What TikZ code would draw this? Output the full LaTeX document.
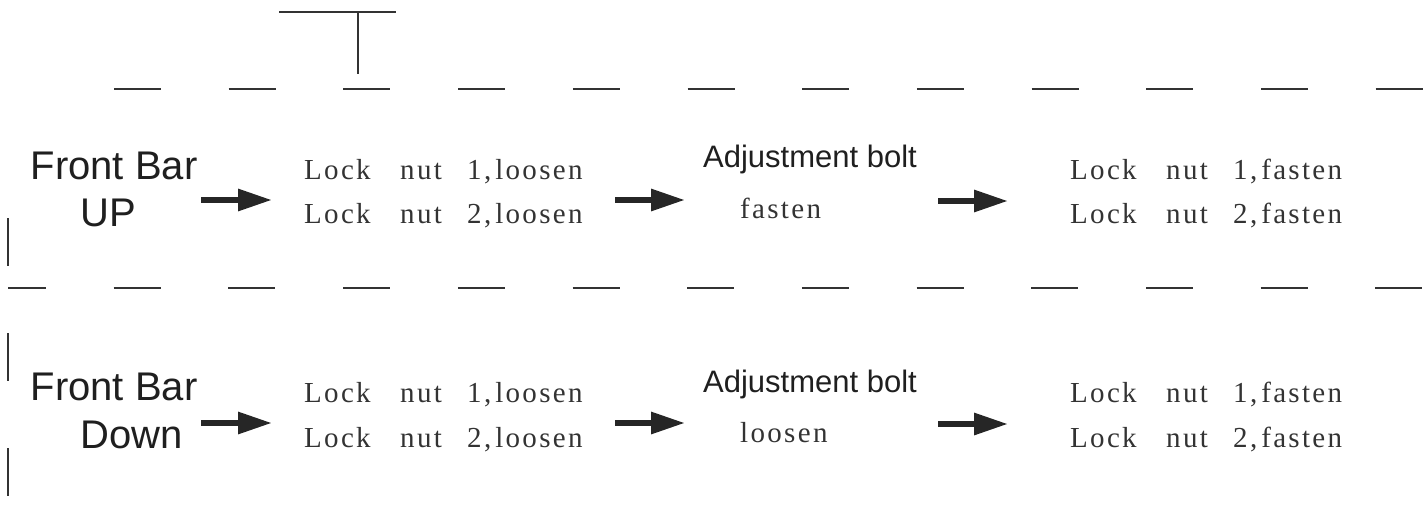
\documentclass[tikz,border=0pt]{standalone}
\usepackage{fontspec}
\setsansfont{Liberation Sans}
\newfontfamily\nutfont{Liberation Serif}[LetterSpace=8]
\newcommand{\nutline}[3]{\makebox[96pt][l]{#1}\makebox[67pt][l]{#2}#3}
\usetikzlibrary{arrows.meta}

\begin{document}
\begin{tikzpicture}
[x=1pt, y=-1pt, every node/.style={inner sep=0pt, text=black!88},
 guide/.style={line width=2pt, color=black!80},
 bartext/.style={font=\sffamily\fontsize{40}{48}\selectfont},
 bolttext/.style={font=\sffamily\fontsize{31}{37}\selectfont, anchor=base},
 nuttext/.style={font=\nutfont\fontsize{29}{44}\selectfont, anchor=base west, text=black!80},
 push/.style={line width=6pt, color=black!85, -{Triangle[length=34pt, width=21pt]}}]
\useasboundingbox (0,0) rectangle (1423,508);
% dashed guides and the T mark
\draw [guide] (279,12) -- (396,12);
\draw [guide] (358,12) -- (358,74);
\draw [guide, dash pattern=on 47pt off 67.7pt] (114,89) -- (1423,89);
\draw [guide, dash pattern=on 47pt off 67.7pt, dash phase=9pt] (8,288) -- (1423,288);
\draw [guide, dash pattern=on 48pt off 67pt] (8,218) -- (8,508);
% upper row
\node (1) [bartext, anchor=base] at (114,179) {Front Bar};
\node (2) [bartext, anchor=base west] at (80,226) {UP};
\node (3) [nuttext] at (304,179) {\nutline{Lock}{nut}{1,\hspace{4pt}loosen}};
\node (4) [nuttext] at (304,223) {\nutline{Lock}{nut}{2,\hspace{4pt}loosen}};
\node (5) [bolttext] at (810,167) {Adjustment bolt};
\node (6) [nuttext] at (740,218) {fasten};
\node (7) [nuttext] at (1070,179) {\nutline{Lock}{nut}{1,\hspace{4pt}fasten}};
\node (8) [nuttext] at (1070,223) {\nutline{Lock}{nut}{2,\hspace{4pt}fasten}};
% lower row
\node (9) [bartext, anchor=base] at (114,400) {Front Bar};
\node (10) [bartext, anchor=base west] at (80,448) {Down};
\node (11) [nuttext] at (304,402) {\nutline{Lock}{nut}{1,\hspace{4pt}loosen}};
\node (12) [nuttext] at (304,447) {\nutline{Lock}{nut}{2,\hspace{4pt}loosen}};
\node (13) [bolttext] at (810,392) {Adjustment bolt};
\node (14) [nuttext] at (740,442) {loosen};
\node (15) [nuttext] at (1070,402) {\nutline{Lock}{nut}{1,\hspace{4pt}fasten}};
\node (16) [nuttext] at (1070,447) {\nutline{Lock}{nut}{2,\hspace{4pt}fasten}};
% arrow ends
\coordinate (21) at (201,200);
\coordinate (22) at (272,200);
\coordinate (23) at (615,200);
\coordinate (24) at (685,200);
\coordinate (25) at (938,201);
\coordinate (26) at (1008,201);
\coordinate (27) at (201,423);
\coordinate (28) at (272,423);
\coordinate (29) at (615,423);
\coordinate (30) at (685,423);
\coordinate (31) at (938,424);
\coordinate (32) at (1008,424);
\draw [push] (21) to (22);
\draw [push] (23) to (24);
\draw [push] (25) to (26);
\draw [push] (27) to (28);
\draw [push] (29) to (30);
\draw [push] (31) to (32);
\end{tikzpicture}
\end{document}
